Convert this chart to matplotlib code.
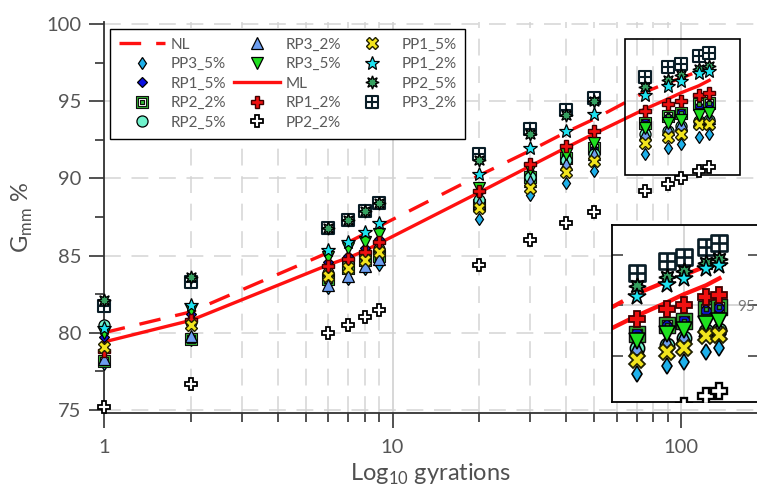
import matplotlib
matplotlib.use('Agg')
import matplotlib.pyplot as plt
from matplotlib.path import Path
from matplotlib.patches import Rectangle
from matplotlib.ticker import FixedLocator, MultipleLocator, NullFormatter, FixedFormatter, LogLocator

plt.rcParams['font.family'] = ['Lato', 'DejaVu Sans']
plt.rcParams['font.weight'] = 'normal'
plt.rcParams['mathtext.fontset'] = 'custom'
plt.rcParams['mathtext.rm'] = 'Lato'

# ---------------- data ----------------
gyrations = [1, 2, 6, 7, 8, 9, 20, 30, 40, 50, 75, 90, 100, 115, 125]

NL = [80.0, 81.35, 85.2, 85.85, 86.4, 86.9, 90.2, 91.8, 93.0, 93.85, 95.6, 96.2, 96.5, 96.95, 97.2]
ML = [79.4, 80.8, 84.4, 84.85, 85.3, 85.8, 89.1, 90.8, 92.0, 92.9, 94.5, 95.15, 95.55, 96.0, 96.35]

PP3_5 = [78.0, 79.5, 82.9, 83.5, 84.1, 84.4, 87.4, 88.9, 89.7, 90.5, 91.6, 92.0, 92.2, 92.7, 92.9]
RP1_5 = [79.7, 81.2, 84.6, 85.0, 85.5, 86.1, 89.1, 90.4, 91.5, 91.9, 93.65, 94.0, 94.3, 94.7, 94.85]
RP2_2 = [78.2, 79.6, 83.5, 84.2, 84.7, 85.0, 88.3, 90.1, 91.3, 92.0, 93.6, 94.05, 94.25, 94.8, 94.9]
RP2_5 = [80.5, 80.7, 83.9, 84.5, 85.0, 85.4, 88.6, 90.1, 91.2, 91.6, 92.9, 93.05, 93.4, 93.75, 93.8]
RP3_2 = [78.3, 79.8, 83.1, 83.7, 84.3, 84.8, 88.4, 89.8, 90.9, 91.6, 92.9, 93.2, 93.5, 93.8, 93.9]
RP3_5 = [80.0, 81.5, 84.9, 85.5, 85.9, 86.4, 89.4, 90.6, 91.6, 92.3, 93.25, 93.6, 93.8, 94.1, 94.25]
RP1_2 = [78.8, 80.8, 84.3, 84.8, 85.2, 85.9, 89.2, 90.9, 92.1, 93.1, 94.35, 94.8, 95.0, 95.4, 95.5]
PP2_2 = [75.2, 76.7, 80.0, 80.5, 81.0, 81.5, 84.4, 86.0, 87.1, 87.8, 89.2, 89.65, 90.0, 90.5, 90.75]
PP1_5 = [79.1, 80.5, 83.7, 84.2, 84.7, 85.2, 88.1, 89.4, 90.4, 91.1, 92.3, 92.7, 92.9, 93.5, 93.55]
PP1_2 = [80.3, 81.8, 85.35, 85.9, 86.5, 87.1, 90.3, 92.0, 93.1, 94.2, 95.4, 96.0, 96.3, 96.8, 96.95]
PP2_5 = [82.1, 83.6, 86.8, 87.3, 87.9, 88.4, 91.2, 92.9, 94.1, 95.0, 95.95, 96.4, 96.7, 97.1, 97.3]
PP3_2 = [81.7, 83.3, 86.8, 87.3, 87.9, 88.4, 91.6, 93.2, 94.4, 95.2, 96.6, 97.2, 97.4, 97.9, 98.1]

x_ticks = [1, 10, 100]
x_tick_labels = ['1', '10', '100']
y_ticks = [75, 80, 85, 90, 95, 100]

# ---------------- custom markers ----------------
grid_sq = Path(
    [(-1, -1), (1, -1), (1, 1), (-1, 1), (-1, -1),
     (0, -1), (0, 1), (-1, 0), (1, 0)],
    [Path.MOVETO, Path.LINETO, Path.LINETO, Path.LINETO, Path.CLOSEPOLY,
     Path.MOVETO, Path.LINETO, Path.MOVETO, Path.LINETO])

a, b = 0.66, 0.3
hole_sq = Path(
    [(-1, -1), (1, -1), (1, 1), (-1, 1), (-1, -1),
     (-a, -a), (-a, a), (a, a), (a, -a), (-a, -a),
     (-b, -b), (b, -b), (b, b), (-b, b), (-b, -b)],
    [Path.MOVETO, Path.LINETO, Path.LINETO, Path.LINETO, Path.CLOSEPOLY] * 3)

# name, values, marker, size, face, edge, mew, zorder
series = [
    ('PP3_5%', PP3_5, 'd', 6.2, '#1eb0ea', 'black', 0.9, 3.0),
    ('RP1_5%', RP1_5, 'D', 5.5, '#0a10e0', 'black', 0.9, 3.1),
    ('RP2_2%', RP2_2, hole_sq, 8.5, '#33b533', '#101010', 0.8, 3.2),
    ('RP2_5%', RP2_5, 'o', 8.0, '#70f2cc', 'black', 0.9, 3.3),
    ('RP3_2%', RP3_2, '^', 8.0, '#6d9ef0', 'black', 0.9, 3.4),
    ('RP3_5%', RP3_5, 'v', 8.5, '#1fe01f', 'black', 0.9, 3.5),
    ('RP1_2%', RP1_2, 'P', 9.0, '#f01010', '#400000', 1.0, 3.6),
    ('PP2_2%', PP2_2, 'P', 9.0, 'white', 'black', 1.3, 3.7),
    ('PP1_5%', PP1_5, 'X', 9.0, '#f2e41e', '#202000', 1.0, 3.8),
    ('PP3_2%', PP3_2, grid_sq, 9.0, 'white', '#0a1e28', 1.5, 3.9),
    ('PP2_5%', PP2_5, (8, 1, 0), 9.5, '#36a060', 'black', 1.0, 4.0),
    ('PP1_2%', PP1_2, '*', 10.0, '#1ee2f0', 'black', 0.9, 4.1),
]
legend_order = ['NL', 'PP3_5%', 'RP1_5%', 'RP2_2%', 'RP2_5%', 'RP3_2%', 'RP3_5%',
                'ML', 'RP1_2%', 'PP2_2%', 'PP1_5%', 'PP1_2%', 'PP2_5%', 'PP3_2%']

LINE_RED = '#ff1010'


def draw(axx, s, clip):
    h = {}
    h['NL'], = axx.plot(gyrations, NL, color=LINE_RED, lw=2.4 * s, ls=(0, (6.5, 4.5)),
                        zorder=2.5, clip_on=clip)
    h['ML'], = axx.plot(gyrations, ML, color=LINE_RED, lw=2.4 * s, ls='-',
                        zorder=2.5, clip_on=clip)
    for name, vals, mk, ms, fc, ec, mew, z in series:
        h[name], = axx.plot(gyrations, vals, ls='none', marker=mk, ms=ms * s,
                            mfc=fc, mec=ec, mew=mew * s, zorder=z, clip_on=clip)
    return h


fig = plt.figure(figsize=(7.57, 4.86), dpi=100)
ax = fig.add_axes([103.8 / 757, (486 - 413) / 486, 1 - 103.8 / 757, (413 - 22.5) / 486])
ax.set_xscale('log')
ax.set_xlim(1, 183)
ax.set_ylim(74.8, 100.1)

handles = draw(ax, 1.0, False)

for sp in ['top', 'right']:
    ax.spines[sp].set_visible(False)
for sp in ['left', 'bottom']:
    ax.spines[sp].set_color('#333333')
    ax.spines[sp].set_linewidth(1.3)

ax.xaxis.set_major_locator(FixedLocator(x_ticks))
ax.xaxis.set_major_formatter(FixedFormatter(x_tick_labels))
ax.xaxis.set_minor_locator(LogLocator(base=10, subs=range(2, 10)))
ax.xaxis.set_minor_formatter(NullFormatter())
ax.yaxis.set_major_locator(FixedLocator(y_ticks))
ax.yaxis.set_minor_locator(MultipleLocator(2.5))

ax.tick_params(which='major', direction='out', length=11, width=1.2, color='#333333',
               labelsize=14.5, labelcolor='#555555', pad=5)
ax.tick_params(axis='x', which='major', pad=8)
ax.tick_params(which='minor', direction='out', length=6.5, width=1.2, color='#333333')

ax.grid(which='major', axis='x', color='#d4d4d4', lw=1.3, ls='-', zorder=0)
ax.grid(which='minor', axis='x', color='#d4d4d4', lw=1.1, ls=(0, (11, 7)), zorder=0)
ax.grid(which='major', axis='y', color='#d4d4d4', lw=1.1, ls=(0, (11, 7)), zorder=0)
ax.set_axisbelow(True)

ax.set_xlabel('Log$_{\\mathregular{10}}$ gyrations', fontsize=17, color='#505050', labelpad=4)
ax.set_ylabel('G$_{\\mathregular{mm}}$ %', fontsize=17, color='#505050', labelpad=8)

leg = ax.legend([handles[k] for k in legend_order], legend_order, loc='upper left', ncol=3,
                prop={'size': 11, 'weight': 'normal'}, frameon=True, fancybox=False,
                edgecolor='black', framealpha=1,
                borderaxespad=0.4, handlelength=3.0, handletextpad=0.4, columnspacing=0.5,
                labelspacing=0.36, borderpad=0.6, labelcolor='#5a5a5a', numpoints=1)
leg.get_frame().set_linewidth(1.0)
leg.set_zorder(10)

# rectangle marking zoomed region
ins_x = (64, 160)
ins_y = (90.2, 99.0)
ax.add_patch(Rectangle((ins_x[0], ins_y[0]), ins_x[1] - ins_x[0], ins_y[1] - ins_y[0],
                       fill=False, ec='black', lw=1.2, zorder=2.6))

# zoomed inset
axin = fig.add_axes([612 / 757, (486 - 402) / 486, 147 / 757, 177 / 486])
axin.set_xscale('log')
axin.set_xlim(*ins_x)
axin.set_ylim(*ins_y)
draw(axin, 1.29, True)
for sp in axin.spines.values():
    sp.set_color('black')
    sp.set_linewidth(1.3)
axin.xaxis.set_major_locator(FixedLocator([100]))
axin.xaxis.set_minor_locator(FixedLocator([]))
axin.xaxis.set_major_formatter(NullFormatter())
axin.tick_params(axis='x', which='both', length=0)
axin.yaxis.set_major_locator(MultipleLocator(5))
axin.yaxis.set_minor_locator(MultipleLocator(2.5))
axin.tick_params(axis='y', which='both', direction='in', length=8, width=1.2, color='#444444',
                 left=True, right=True, labelleft=False, labelright=True)
axin.tick_params(axis='y', which='major', labelsize=11, labelcolor='#777777', pad=-16)
axin.grid(which='major', color='#d4d4d4', lw=1.3, ls='-', zorder=0)
axin.set_axisbelow(True)

fig.savefig('out.png', dpi=100)
